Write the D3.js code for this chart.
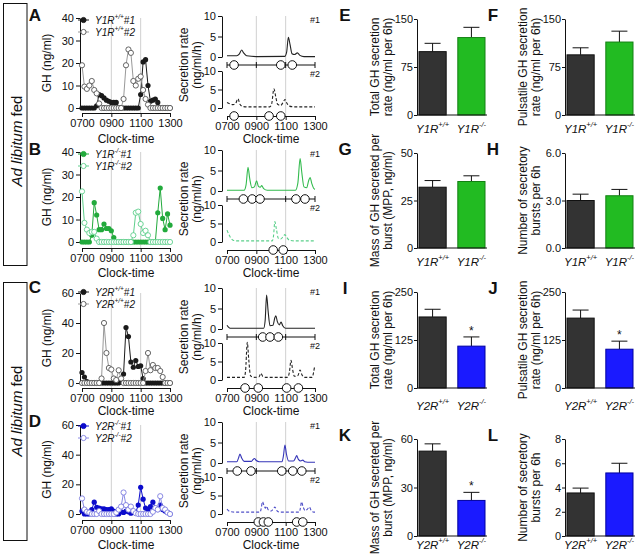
<!DOCTYPE html>
<html><head><meta charset="utf-8">
<script src="https://cdn.jsdelivr.net/npm/d3@7"></script>
<style>body{margin:0;background:#fff}</style>
</head><body>
<svg id="c" width="640" height="554"></svg>
<script>
// ---------- DATA ----------
const clockTicks = [0, 120, 240, 360];           // minutes after 0700
const clockLabels = ["0700", "0900", "1100", "1300"];
const sampleMin = d3.range(0, 361, 10);          // 10-min sampling 0700-1300

// GH (ng/ml) per sample
const ghA1 = [0,0,0,0,0,0,1,6,5.5,4.5,3.5,3,2.5,2.5,2.5,0,0,0,0,0,0,0,0,0,6,20.5,21.5,10,3,3.5,4,2.5,0,0,0,0,0];
const ghA2 = [19,9.5,8.5,10,12,8,6.5,2,0,0,0,0,0,0,0,0,0,4,19,26,24.5,12,10,13,14,8,4,1.5,0,0,0,0,0,0,0,0,0];
const ghB1 = [0,0,0,0,3,17.5,12,5.5,5.5,8,6,6,5,2,0,0,0,0,0,0,0,0,0,0,0,0,0,0,0,0,0,13,24,10.5,5.5,12.5,7.5];
const ghB2 = [22.5,8.5,5.5,4,4.5,4.5,1.5,0,0,0,0,0,0,0,0,0,0,0,0,0,0,3,13,13.5,8,4,5,3,0,0,0,0,0,0,0,0,0];
const ghC1 = [7,4,1,0,0,0,0,0,0,0,0,0,0,0,0,0,1,6,37,31,14,10.5,15,11,11.5,3,0,0,0,0,0,0,0,0,0,0,0];
const ghC2 = [0,0,0,0,0,0,0,0,3,40,20,10,9,3,2,8.5,3,0,0,0,0,0,0,0,0,0,8,20,8.5,12,10,10,8,4,0,0,0];
const ghD1 = [2,0,0,0,3,8,4.5,4,3.5,3.5,3,3,3.5,2,0,0,1.5,1,2,1.5,0.5,1,1,6,18,10,4,3,5,8,4,3,6,3,2,1,0];
const ghD2 = [10.5,3,1.5,1,0,0,0,2,0,0,0,0,0,0,1,3,5,14.5,6,3,5,2,0.5,0,0,0,0,0,0,1.5,4,3,12,4,3,1,0];

// Deconvolved secretion rate (ng/ml/h): [minute, rate]
const secA1 = [[0,0.3],[40,0.3],[50,0.7],[60,1.7],[68,1.0],[80,0.3],[120,0.1],[236,0.15],[244,1.2],[251,4.8],[258,3.0],[266,0.8],[276,0.6],[288,1.0],[298,0.4],[315,0.1],[360,0.1]];
const secA2 = [[0,1.5],[12,1.1],[25,0.9],[35,1.2],[45,2.5],[53,1.0],[65,0.4],[90,0.3],[175,0.3],[183,1.2],[192,5.2],[199,3.2],[207,1.0],[220,0.7],[230,1.6],[237,2.3],[244,1.4],[255,0.5],[275,0.3],[360,0.3]];
const secB1 = [[0,0.2],[70,0.2],[78,1.5],[86,5.8],[93,3.0],[102,0.8],[112,1.0],[121,2.5],[128,1.2],[136,0.9],[142,1.3],[150,0.6],[165,0.2],[280,0.2],[290,2.0],[299,7.9],[306,4.5],[315,1.0],[326,0.8],[334,2.5],[340,3.3],[347,1.8],[355,0.6],[360,0.4]];
const secB2 = [[0,3.2],[8,2.0],[16,1.0],[25,0.5],[40,0.3],[185,0.3],[190,1.5],[196,5.5],[202,3.5],[210,1.0],[220,0.8],[230,1.5],[237,2.0],[244,1.3],[255,0.5],[275,0.3],[360,0.3]];
const secC1 = [[0,0.9],[5,0.5],[12,0.2],[150,0.2],[156,2.0],[162,8.3],[168,4.5],[176,0.8],[188,0.9],[196,2.8],[200,3.2],[206,1.8],[214,1.0],[221,1.7],[228,0.8],[240,0.2],[360,0.2]];
const secC2 = [[0,0.7],[70,0.7],[76,2.5],[83,10.2],[89,5.5],[96,1.2],[108,0.7],[130,0.8],[139,1.8],[146,1.0],[158,0.7],[248,0.7],[255,2.0],[262,5.3],[268,3.0],[276,1.0],[290,1.2],[299,2.7],[306,1.5],[318,0.7],[348,0.7],[354,2.0],[358,3.4],[360,3.6]];
const secD1 = [[0,0.3],[40,0.3],[47,1.2],[53,2.2],[60,1.2],[70,0.4],[100,0.4],[106,0.8],[112,1.1],[120,0.6],[132,0.3],[225,0.3],[231,1.8],[237,4.4],[243,2.2],[252,0.5],[272,0.5],[280,1.2],[285,1.8],[292,0.9],[302,0.5],[310,0.7],[318,0.3],[330,0.2],[360,0.2]];
const secD2 = [[0,1.3],[8,0.8],[18,0.6],[30,0.5],[135,0.5],[140,1.5],[145,3.3],[151,2.4],[157,1.6],[162,2.1],[168,1.2],[180,0.8],[190,1.4],[196,1.9],[203,1.0],[215,0.5],[295,0.5],[300,1.5],[305,3.3],[311,2.0],[320,0.9],[330,1.4],[337,1.9],[344,1.0],[355,0.5],[360,0.5]];

// Pulse onset markers (minutes)
const pulA1 = [29, 220, 267];
const pulA2 = [29, 172, 220];
const pulB1 = [67, 103, 135, 282, 319];
const pulB2 = [189, 230];
const pulC1 = [146, 176, 210];
const pulC2 = [74, 128, 244, 292];
const pulD1 = [42, 98, 224, 269, 306];
const pulD2 = [128, 149, 169, 285, 310];

// Bar panels: mean and SEM for [WT, KO]
const meanE = [99, 121],  semE = [13, 16];
const meanF = [94, 114],  semF = [11, 17];
const meanG = [32, 35],   semG = [3.5, 3];
const meanH = [3.0, 3.3], semH = [0.4, 0.4];
const meanI = [185, 109], semI = [20, 24];
const meanJ = [182, 101], semJ = [21, 21];
const meanK = [52.5, 22], semK = [4.5, 5];
const meanL = [3.55, 5.2], semL = [0.4, 0.8];
const genoLabels = ["+/+", "-/-"];

// ---------- DRAWING ----------
const FONT = "'Liberation Sans', Arial, Helvetica, sans-serif";
const svg = d3.select("#c").style("font-family", FONT);

function styleAxis(sel) {
  sel.attr("font-size", 11).attr("font-family", FONT);
  sel.selectAll("text").attr("font-size", 11).style("font-size", "11px").style("font-family", FONT).attr("fill", "#111");
  sel.selectAll("line,path").attr("stroke", "#111").attr("stroke-width", 1);
}
function label(x, y, s, o = {}) {
  const sz = o.size || 12;
  const t = svg.append("text").attr("x", x).attr("y", y)
    .attr("text-anchor", o.anchor || "middle").attr("dominant-baseline", "central")
    .attr("font-size", sz).style("font-size", sz + "px").attr("fill", "#111");
  if (o.weight) t.style("font-weight", o.weight);
  if (o.italic) t.style("font-style", "italic");
  if (o.rot) t.attr("transform", `rotate(-90,${x},${y})`);
  t.text(s);
  return t;
}
function supText(x, y, base, sup, tail, size, anchor) {
  const t = svg.append("text").attr("x", x).attr("y", y).attr("text-anchor", anchor || "start")
    .attr("dominant-baseline", "central").attr("font-size", size).style("font-size", size + "px")
    .style("font-style", "italic").attr("fill", "#111");
  t.append("tspan").attr("font-size", size).text(base);
  t.append("tspan").attr("dy", -size * 0.4).attr("font-size", size * 0.65).text(sup);
  if (tail) t.append("tspan").attr("dy", size * 0.4).attr("font-size", size).text(tail);
  return t;
}

// Side boxes
[[3, 265, 141], [282, 540, 411]].forEach(([y0, bot, cy]) => {
  svg.append("rect").attr("x", 3.5).attr("y", y0 + 0.5).attr("width", 23.5).attr("height", bot - y0)
    .attr("fill", "none").attr("stroke", "#111").attr("stroke-width", 1);
  const t = svg.append("text").attr("x", 16).attr("y", cy).attr("text-anchor", "middle")
    .attr("dominant-baseline", "central").attr("transform", `rotate(-90,16,${cy})`)
    .attr("font-size", 15).style("font-size", "15px").attr("fill", "#111");
  t.append("tspan").attr("font-size", 15).style("font-style", "italic").text("Ad libitum");
  t.append("tspan").attr("font-size", 15).text(" fed");
});

const rows = [
  {L: "A", o: 0,   lTop: 18,  lZero: 108, lAxis: 113, clockY: 139, max: 40, ticks: [0,10,20,30,40], gene: "Y1R", geno: "+/+",
   g1: ghA1, g2: ghA2, s1: secA1, s2: secA2, p1: pulA1, p2: pulA2,
   c1: "#1a1a1a", c2: "#555", l2: "#999", r1: "#222", r2: "#222"},
  {L: "B", o: 134, lTop: 152, lZero: 242, lAxis: 248, clockY: 273, max: 40, ticks: [0,10,20,30,40], gene: "Y1R", geno: "-/-",
   g1: ghB1, g2: ghB2, s1: secB1, s2: secB2, p1: pulB1, p2: pulB2,
   c1: "#22aa3c", c2: "#5fcf8c", l2: "#5fcf8c", r1: "#33bb4e", r2: "#5acf8a"},
  {L: "C", o: 272, lTop: 293, lZero: 383, lAxis: 388, clockY: 411, max: 60, ticks: [0,20,40,60], gene: "Y2R", geno: "+/+",
   g1: ghC1, g2: ghC2, s1: secC1, s2: secC2, p1: pulC1, p2: pulC2,
   c1: "#1a1a1a", c2: "#555", l2: "#999", r1: "#222", r2: "#222"},
  {L: "D", o: 406, lTop: 425, lZero: 514, lAxis: 520, clockY: 545, max: 60, ticks: [0,20,40,60], gene: "Y2R", geno: "-/-",
   g1: ghD1, g2: ghD2, s1: secD1, s2: secD2, p1: pulD1, p2: pulD2,
   c1: "#0b0bcc", c2: "#7d7de0", l2: "#8a8ae6", r1: "#3535b8", r2: "#5050c8"}
];

rows.forEach(r => {
  const o = r.o;
  // ----- left GH profile -----
  const xl = d3.scaleLinear([0, 360], [82, 170]);
  const yl = d3.scaleLinear([0, r.max], [r.lZero, r.lTop]);
  svg.append("g").selectAll("line").data([120, 240]).join("line")
    .attr("x1", d => xl(d)).attr("x2", d => xl(d)).attr("y1", r.lTop).attr("y2", r.lAxis)
    .attr("stroke", "#d0d0d0").attr("stroke-width", 1);
  svg.append("g").attr("transform", "translate(80,0)")
    .call(d3.axisLeft(yl).tickValues(r.ticks).tickSize(4).tickPadding(2).tickSizeOuter(0)).call(styleAxis);
  svg.append("g").attr("transform", `translate(0,${r.lAxis})`)
    .call(d3.axisBottom(xl).tickValues(clockTicks).tickFormat((d, i) => clockLabels[i]).tickSize(4).tickPadding(2).tickSizeOuter(0))
    .call(styleAxis);
  const ln = d3.line().x((d, i) => xl(sampleMin[i])).y(d => yl(d));
  svg.append("path").attr("d", ln(r.g1)).attr("fill", "none").attr("stroke", r.c1).attr("stroke-width", 1);
  svg.append("g").selectAll("circle").data(r.g1).join("circle")
    .attr("cx", (d, i) => xl(sampleMin[i])).attr("cy", d => yl(d)).attr("r", 2.6).attr("fill", r.c1);
  svg.append("path").attr("d", ln(r.g2)).attr("fill", "none").attr("stroke", r.l2).attr("stroke-width", 1);
  svg.append("g").selectAll("circle").data(r.g2).join("circle")
    .attr("cx", (d, i) => xl(sampleMin[i])).attr("cy", d => yl(d)).attr("r", 2.6)
    .attr("fill", "#fff").attr("stroke", r.c2).attr("stroke-width", 0.9);
  // legend
  [[20, r.c1, true, "#1"], [32, r.c2, false, "#2"]].forEach(([ly, c, filled, tag]) => {
    svg.append("line").attr("x1", 78).attr("x2", 89).attr("y1", ly + o).attr("y2", ly + o)
      .attr("stroke", filled ? c : r.l2).attr("stroke-width", 1);
    svg.append("circle").attr("cx", 83.5).attr("cy", ly + o).attr("r", 2.6)
      .attr("fill", filled ? c : "#fff").attr("stroke", c).attr("stroke-width", 0.9);
    supText(95, ly + o, r.gene, r.geno, tag, 10);
  });
  label(35, 15 + o, r.L, {size: 17, weight: "bold"});
  label(47, (r.lTop + r.lZero) / 2, "GH (ng/ml)", {rot: true});
  label(126, r.clockY, "Clock-time");

  // ----- right secretion profiles -----
  const xr = d3.scaleLinear([0, 360], [227, 315]);
  const yT = d3.scaleLinear([0, 10], [57 + o, 16 + o]);
  const yB = d3.scaleLinear([0, 10], [108 + o, 71 + o]);
  svg.append("g").selectAll("line").data([120, 240]).join("line")
    .attr("x1", d => xr(d)).attr("x2", d => xr(d)).attr("y1", 16 + o).attr("y2", 116 + o)
    .attr("stroke", "#d0d0d0").attr("stroke-width", 1);
  [yT, yB].forEach(ys => {
    svg.append("g").attr("transform", "translate(222,0)")
      .call(d3.axisLeft(ys).tickValues([0, 5, 10]).tickSize(4).tickPadding(2).tickSizeOuter(0)).call(styleAxis);
  });
  // middle pulse axis
  const midY = 65 + o;
  svg.append("line").attr("x1", xr(0)).attr("x2", xr(360)).attr("y1", midY).attr("y2", midY).attr("stroke", "#111");
  svg.append("g").selectAll("line").data(clockTicks).join("line")
    .attr("x1", d => xr(d)).attr("x2", d => xr(d)).attr("y1", midY - 3).attr("y2", midY + 3).attr("stroke", "#111");
  svg.append("g").attr("transform", `translate(0,${116 + o})`)
    .call(d3.axisBottom(xr).tickValues(clockTicks).tickFormat((d, i) => clockLabels[i]).tickSize(4).tickPadding(2).tickSizeOuter(0))
    .call(styleAxis);
  const cT = d3.line().x(d => xr(d[0])).y(d => yT(d[1])).curve(d3.curveMonotoneX);
  const cB = d3.line().x(d => xr(d[0])).y(d => yB(d[1])).curve(d3.curveMonotoneX);
  svg.append("path").attr("d", cT(r.s1)).attr("fill", "none").attr("stroke", r.r1).attr("stroke-width", 1.1);
  svg.append("path").attr("d", cB(r.s2)).attr("fill", "none").attr("stroke", r.r2).attr("stroke-width", 1.1)
    .attr("stroke-dasharray", "3,2");
  [[r.p1, midY], [r.p2, 116 + o]].forEach(([pl, py]) => {
    svg.append("g").selectAll("circle").data(pl).join("circle")
      .attr("cx", d => xr(d)).attr("cy", py).attr("r", 4.3)
      .attr("fill", "#fff").attr("stroke", "#111").attr("stroke-width", 1);
  });
  label(320, 20 + o, "#1", {size: 9, anchor: "end"});
  label(320, 74 + o, "#2", {size: 9, anchor: "end"});
  label(184, 65 + o, "Secretion rate", {rot: true});
  label(197, 65 + o, "(ng/ml/h)", {rot: true});
  label(271, r.clockY, "Clock-time");
});

// ----- bar panels -----
const bars = [
  {L: "E", ax: 417, top: 19,  zero: 115, max: 150, ticks: [0,75,150], m: meanE, s: semE, gene: "Y1R", col: "#22bb22", st: "#128012", lab: ["Total GH secretion", "rate (ng/ml per 6h)"], catY: 129, star: false},
  {L: "F", ax: 565, top: 19,  zero: 115, max: 150, ticks: [0,75,150], m: meanF, s: semF, gene: "Y1R", col: "#22bb22", st: "#128012", lab: ["Pulsatile GH secretion", "rate (ng/ml per 6h)"], catY: 129, star: false},
  {L: "G", ax: 417, top: 153, zero: 248, max: 50,  ticks: [0,25,50],  m: meanG, s: semG, gene: "Y1R", col: "#22bb22", st: "#128012", lab: ["Mass of GH secreted per", "burst (MPP, ng/ml)"], catY: 262, star: false},
  {L: "H", ax: 565, top: 153, zero: 248, max: 6,   ticks: [0,3,6],    m: meanH, s: semH, gene: "Y1R", col: "#22bb22", st: "#128012", lab: ["Number of secretory", "bursts per 6h"], catY: 262, star: false},
  {L: "I", ax: 417, top: 292, zero: 388, max: 250, ticks: [0,125,250], m: meanI, s: semI, gene: "Y2R", col: "#1a1aff", st: "#0000a0", lab: ["Total GH secretion", "rate (ng/ml per 6h)"], catY: 406, star: true},
  {L: "J", ax: 565, top: 292, zero: 388, max: 250, ticks: [0,125,250], m: meanJ, s: semJ, gene: "Y2R", col: "#1a1aff", st: "#0000a0", lab: ["Pulsatile GH secretion", "rate (ng/ml per 6h)"], catY: 406, star: true},
  {L: "K", ax: 417, top: 439, zero: 536, max: 60,  ticks: [0,30,60],  m: meanK, s: semK, gene: "Y2R", col: "#1a1aff", st: "#0000a0", lab: ["Mass of GH secreted per", "burst (MPP, ng/ml)"], catY: 545, star: true},
  {L: "L", ax: 565, top: 439, zero: 536, max: 8,   ticks: [0,2,4,6,8], m: meanL, s: semL, gene: "Y2R", col: "#1a1aff", st: "#0000a0", lab: ["Number of secretory", "bursts per 6h"], catY: 545, star: false}
];
bars.forEach(b => {
  const y = d3.scaleLinear([0, b.max], [b.zero, b.top]);
  const x = d3.scaleBand().domain(genoLabels).range([b.ax + 2, b.ax + 68]).paddingInner(0.3).paddingOuter(0);
  svg.append("g").attr("transform", `translate(${b.ax},0)`)
    .call(d3.axisLeft(y).tickValues(b.ticks).tickSize(3).tickPadding(1).tickSizeOuter(0)).call(styleAxis);
  genoLabels.forEach((gk, i) => {
    const cx = x(gk) + x.bandwidth() / 2;
    const topY = y(b.m[i] + b.s[i]);
    svg.append("line").attr("x1", cx).attr("x2", cx).attr("y1", y(b.m[i])).attr("y2", topY).attr("stroke", "#111");
    svg.append("line").attr("x1", cx - 8).attr("x2", cx + 8).attr("y1", topY).attr("y2", topY).attr("stroke", "#111");
    svg.append("rect").attr("x", x(gk)).attr("y", y(b.m[i])).attr("width", x.bandwidth())
      .attr("height", b.zero - y(b.m[i]))
      .attr("fill", i === 0 ? "#333333" : b.col).attr("stroke", i === 0 ? "#111" : b.st).attr("stroke-width", 1);
    supText(cx, b.catY, b.gene, gk, "", 11.5, "middle");
    if (b.star && i === 1) label(cx, topY - 6, "*", {size: 12});
  });
  svg.append("line").attr("x1", b.ax).attr("x2", b.ax + 70).attr("y1", b.zero).attr("y2", b.zero).attr("stroke", "#111");
  const cy = (b.top + b.zero) / 2;
  label(b.ax - 42, cy, b.lab[0], {rot: true});
  label(b.ax - 29, cy, b.lab[1], {rot: true});
  label(b.ax - 72, b.top - 4, b.L, {size: 17, weight: "bold"});
});
</script>
</body></html>
